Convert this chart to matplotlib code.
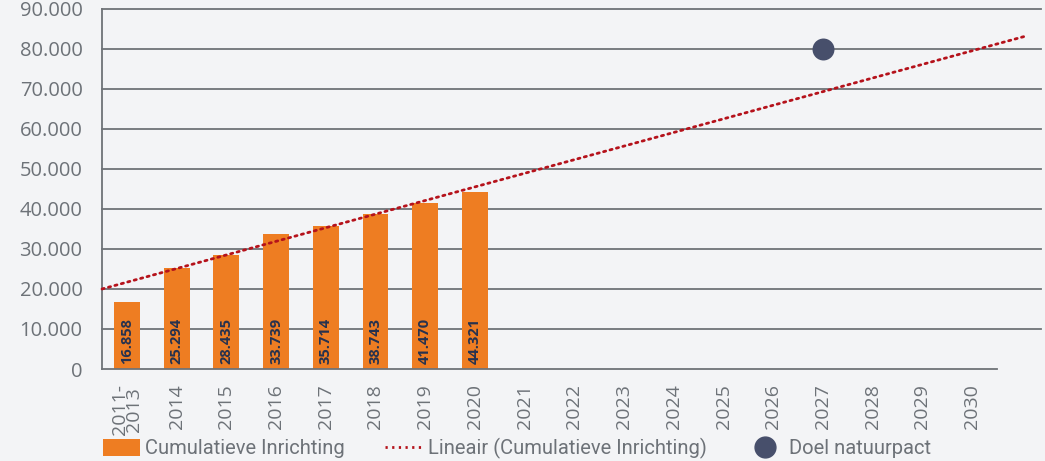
import matplotlib
matplotlib.use("Agg")
import matplotlib.pyplot as plt
from matplotlib.lines import Line2D
from matplotlib.patches import Patch
import matplotlib.ticker as mticker

categories = ["2011-\n2013", "2014", "2015", "2016", "2017", "2018", "2019", "2020",
              "2021", "2022", "2023", "2024", "2025", "2026", "2027", "2028", "2029", "2030"]
cumulatief = [16858, 25294, 28435, 33739, 35714, 38743, 41470, 44321]
trend_x = [-0.5, 18.1]          # trend line extent (category units)
trend_y = [20000, 83300]
doel_category = "2027"
doel_value = 80000
y_ticks = list(range(0, 90001, 10000))

BG = "#f3f4f6"
ORANGE = "#ee7d22"
NAVY = "#474f6b"
RED = "#b5121b"
GRID = "#6f7377"
TXT = "#6d7278"
LBL = "#26324f"
FONT = ["Open Sans", "DejaVu Sans"]

fig = plt.figure(figsize=(10.45, 4.61), dpi=100)
fig.patch.set_facecolor(BG)
ax = fig.add_axes([102/1045, 1-369/461, (997-102)/1045, (369-9)/461])
ax.set_facecolor(BG)

xs = list(range(len(categories)))
ax.set_xlim(-0.5, len(categories) - 0.5)
ax.set_ylim(0, 90000)

for y in y_ticks[1:]:
    ax.axhline(y, xmin=0, xmax=1.049, color=GRID, lw=1.3, clip_on=False, zorder=1)

ax.bar(xs[:len(cumulatief)], cumulatief, width=0.52, color=ORANGE, zorder=2)
for x, v in zip(xs, cumulatief):
    ax.text(x, 1300, f"{v:,}".replace(",", "."), rotation=90, ha="center", va="bottom",
            fontsize=10.5, fontweight="bold", color=LBL, family=FONT, zorder=3)

ax.plot(trend_x, trend_y, color=RED, lw=2.0, linestyle=(0, (0.8, 1.6)),
        dash_capstyle="round", clip_on=False, zorder=3)

ax.scatter([categories.index(doel_category)], [doel_value], s=250, color=NAVY,
           linewidths=0, zorder=4, clip_on=False)

for s in ["top", "right"]:
    ax.spines[s].set_visible(False)
for s in ["left", "bottom"]:
    ax.spines[s].set_color(GRID)
    ax.spines[s].set_linewidth(1.3)

ax.set_yticks(y_ticks)
ax.yaxis.set_major_formatter(mticker.FuncFormatter(lambda v, p: f"{int(v):,}".replace(",", ".")))
ax.set_xticks(xs)
ax.set_xticklabels(categories, rotation=90, ha="center", va="top", linespacing=0.75)
ax.tick_params(axis="both", length=0, colors=TXT)
ax.tick_params(axis="y", pad=14, labelsize=14.5)
ax.tick_params(axis="x", pad=11, labelsize=14)
for lab in ax.get_xticklabels() + ax.get_yticklabels():
    lab.set_family(FONT)

handles = [
    Patch(facecolor=ORANGE, edgecolor="none"),
    Line2D([0], [0], color=RED, lw=2.0, linestyle=(0, (0.8, 1.6))),
    Line2D([0], [0], marker="o", color=NAVY, lw=0, markersize=15),
]
labels = ["Cumulatieve Inrichting", "Lineair (Cumulatieve Inrichting)", "Doel natuurpact"]
leg = fig.legend(handles, labels, loc="lower left", bbox_to_anchor=(91/1045, -0.022), ncol=3,
                 frameon=False, handlelength=1.85, handleheight=0.9, borderpad=0.1,
                 columnspacing=2.0, handletextpad=0.25, labelcolor=TXT,
                 prop={"family": ["Roboto", "DejaVu Sans"], "size": 14.5})

fig.savefig("out.png", dpi=100, facecolor=BG)
